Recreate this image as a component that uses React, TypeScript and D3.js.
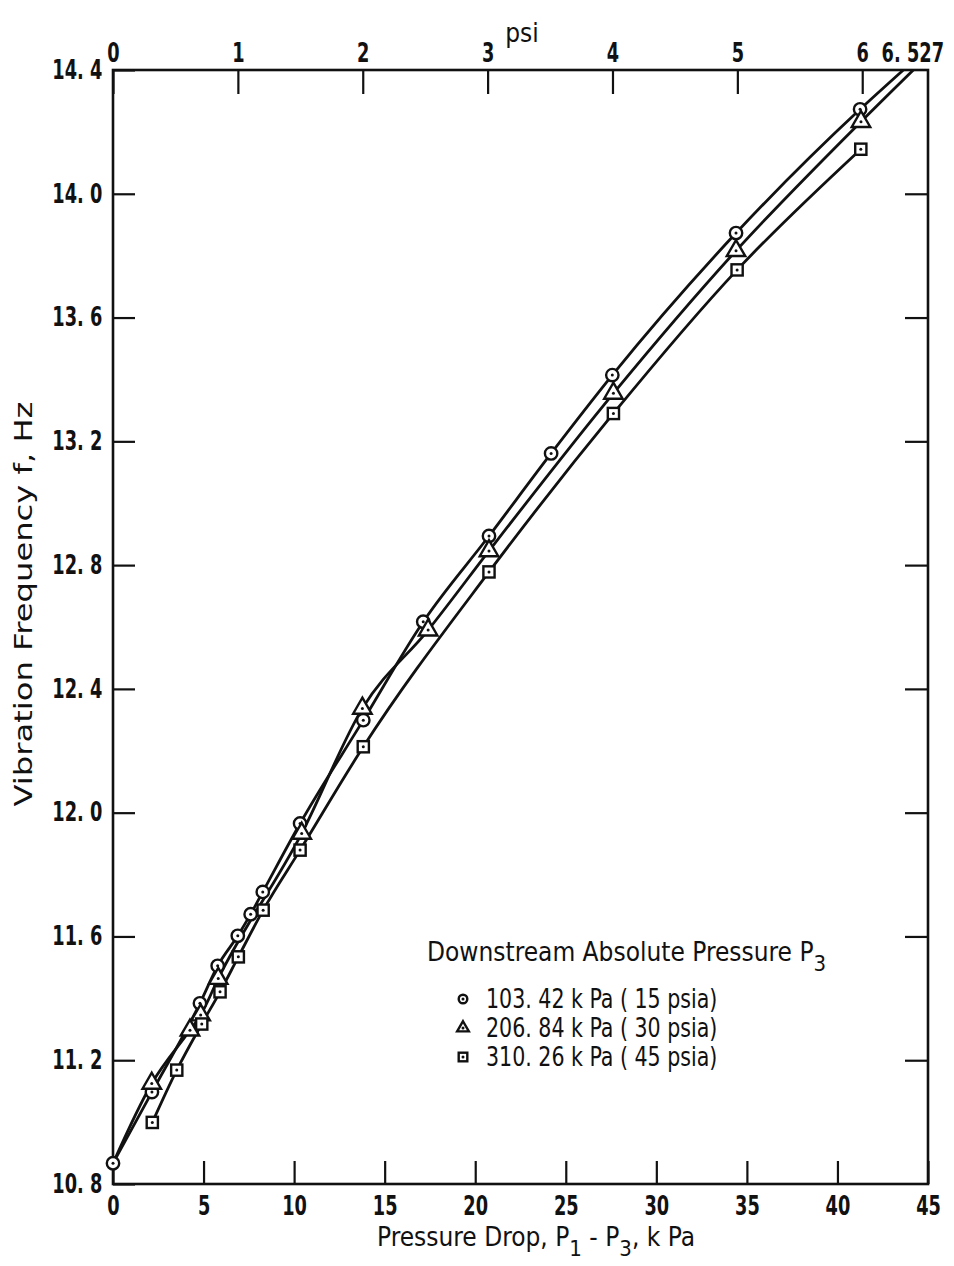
import React, { useEffect, useRef } from 'react'
import * as d3 from 'd3'

// axis values
const kpaTicks = [0, 5, 10, 15, 20, 25, 30, 35, 40, 45]
const hzTicks = [10.8, 11.2, 11.6, 12.0, 12.4, 12.8, 13.2, 13.6, 14.0, 14.4]
const hzLabels = ['10. 8', '11. 2', '11. 6', '12. 0', '12. 4', '12. 8', '13. 2', '13. 6', '14. 0', '14. 4']
const psiTicks = [0, 1, 2, 3, 4, 5, 6]
const psiEndLabel = '6. 527'
const kpaPerPsi = 6.894757

// 103.42 kPa (circles)
const lowX = [0, 2.15, 4.8, 5.78, 6.89, 7.6, 8.27, 10.33, 13.82, 17.13, 20.76, 24.19, 27.57, 34.4, 41.25]
const lowY = [10.867, 11.097, 11.384, 11.505, 11.602, 11.672, 11.744, 11.965, 12.299, 12.617, 12.894, 13.161, 13.414, 13.873, 14.273]
const lowEnd = [43.64, 14.4]

// 206.84 kPa (triangles)
const midX = [2.14, 4.25, 4.84, 5.81, 10.42, 13.77, 17.4, 20.76, 27.63, 34.4, 41.3]
const midY = [11.125, 11.297, 11.346, 11.464, 11.933, 12.337, 12.59, 12.846, 13.355, 13.816, 14.233]
const midEnd = [44.19, 14.4]

// 310.26 kPa (squares)
const highX = [2.17, 3.52, 4.9, 5.91, 6.92, 8.29, 10.33, 13.82, 20.76, 27.63, 34.46, 41.29]
const highY = [10.999, 11.168, 11.317, 11.421, 11.534, 11.685, 11.879, 12.213, 12.778, 13.29, 13.754, 14.144]

const legendTitle = 'Downstream Absolute Pressure P'
const legendLabels = ['103. 42 k Pa ( 15 psia)', '206. 84 k Pa ( 30 psia)', '310. 26 k Pa ( 45 psia)']
const legendShapes = ['circle', 'triangle', 'square']

function Chart() {
  const ref = useRef<SVGSVGElement>(null)

  useEffect(() => {
    let svg = d3.select(ref.current)
    svg.selectAll('*').remove()

    let ink = '#111'
    let font = "'Liberation Sans Narrow', 'DejaVu Sans Condensed', 'Arial Narrow', sans-serif"
    let wideFont = "'DejaVu Sans', 'Liberation Sans', sans-serif"
    let fs = 26
    let squeeze = 0.76

    let x = d3.scaleLinear().domain([0, 45]).range([113, 928])
    let y = d3.scaleLinear().domain([10.8, 14.4]).range([1184, 70])
    let xPsi = d3.scaleLinear().domain([0, 45 / kpaPerPsi]).range(x.range())

    // frame
    svg.append('rect')
      .attr('x', x(0))
      .attr('y', y(14.4))
      .attr('width', x(45) - x(0))
      .attr('height', y(10.8) - y(14.4))
      .attr('fill', 'none')
      .attr('stroke', ink)
      .attr('stroke-width', 2.6)

    // tick labels are narrow and heavy in the original, squeeze them round their anchor
    let styleAxis = (g) => {
      g.select('.domain').remove()
      g.selectAll('line').attr('stroke', ink).attr('stroke-width', 2.2)
      g.selectAll('text')
        .attr('fill', ink)
        .attr('transform', `scale(${squeeze}, 1)`)
        .style('font-family', font)
        .style('font-weight', 'bold')
        .style('font-size', fs + 'px')
    }

    svg.append('g')
      .attr('transform', `translate(0, ${y(10.8)})`)
      .call(d3.axisBottom(x).tickValues(kpaTicks).tickSize(-23).tickSizeOuter(0).tickPadding(13).tickFormat(d3.format('d')))
      .call(styleAxis)

    svg.append('g')
      .attr('transform', `translate(${x(0)}, 0)`)
      .call(d3.axisLeft(y).tickValues(hzTicks).tickSize(-22).tickSizeOuter(0).tickPadding(14).tickFormat((d, i) => hzLabels[i]))
      .call(styleAxis)

    svg.append('g')
      .attr('transform', `translate(${x(45)}, 0)`)
      .call(d3.axisRight(y).tickValues(hzTicks.slice(1, -1)).tickSize(-23).tickSizeOuter(0).tickFormat(() => ''))
      .call(styleAxis)

    svg.append('g')
      .attr('transform', `translate(0, ${y(14.4)})`)
      .call(d3.axisTop(xPsi).tickValues(psiTicks).tickSize(-24).tickSizeOuter(0).tickPadding(8).tickFormat(d3.format('d')))
      .call(styleAxis)

    svg.append('text')
      .text(psiEndLabel)
      .attr('transform', `translate(944, ${y(14.4) - 8}) scale(${squeeze}, 1)`)
      .attr('text-anchor', 'end')
      .attr('fill', ink)
      .style('font-family', font)
      .style('font-weight', 'bold')
      .style('font-size', fs + 'px')

    svg.append('text')
      .text('psi')
      .attr('x', 522)
      .attr('y', 42)
      .attr('text-anchor', 'middle')
      .attr('fill', ink)
      .style('font-family', font)
      .style('font-size', fs + 'px')

    // axis titles
    let xt = svg.append('text')
      .attr('x', 536)
      .attr('y', 1246)
      .attr('text-anchor', 'middle')
      .attr('fill', ink)
      .style('font-family', font)
      .style('font-size', fs + 'px')
    xt.append('tspan').text('Pressure Drop,  P')
    xt.append('tspan').text('1').attr('dy', 10).style('font-size', '22px')
    xt.append('tspan').text(' - P').attr('dy', -10)
    xt.append('tspan').text('3').attr('dy', 10).style('font-size', '22px')
    xt.append('tspan').text(',  k Pa').attr('dy', -10)

    svg.append('text')
      .text('Vibration Frequency f,  Hz')
      .attr('transform', `translate(32, 604) rotate(-90)`)
      .attr('text-anchor', 'middle')
      .attr('textLength', 405)
      .attr('lengthAdjust', 'spacingAndGlyphs')
      .attr('fill', ink)
      .style('font-family', wideFont)
      .style('font-size', '25px')

    // curves
    let line = d3.line().x(d => x(d[0])).y(d => y(d[1])).curve(d3.curveMonotoneX)
    let lowPts = lowX.map((v, i) => [v, lowY[i]])
    let midPts = midX.map((v, i) => [v, midY[i]])
    let highPts = highX.map((v, i) => [v, highY[i]])

    let paths = [
      lowPts.concat([lowEnd]),
      [lowPts[0]].concat(midPts, [midEnd]),
      highPts
    ]
    svg.selectAll('.curve').data(paths).join('path')
      .attr('class', 'curve')
      .attr('d', d => line(d))
      .attr('fill', 'none')
      .attr('stroke', ink)
      .attr('stroke-width', 2.8)

    // markers
    let drawMarker = (g, shape, cx, cy, s) => {
      if (shape == 'circle') {
        g.append('circle').attr('cx', cx).attr('cy', cy).attr('r', s)
          .attr('fill', 'white').attr('stroke', ink).attr('stroke-width', 2.4)
      } else if (shape == 'triangle') {
        g.append('path')
          .attr('d', d3.symbol(d3.symbolTriangle, s * s * 3.2)())
          .attr('transform', `translate(${cx}, ${cy})`)
          .attr('fill', 'white').attr('stroke', ink).attr('stroke-width', 2.4)
      } else {
        g.append('rect').attr('x', cx - s).attr('y', cy - s).attr('width', s * 2).attr('height', s * 2)
          .attr('fill', 'white').attr('stroke', ink).attr('stroke-width', 2.4)
      }
      g.append('circle').attr('cx', cx).attr('cy', cy).attr('r', 1.5).attr('fill', ink)
    }

    let mg = svg.append('g')
    lowPts.forEach(d => drawMarker(mg, 'circle', x(d[0]), y(d[1]), 6.2))
    midPts.forEach(d => drawMarker(mg, 'triangle', x(d[0]), y(d[1]), 6.8))
    highPts.forEach(d => drawMarker(mg, 'square', x(d[0]), y(d[1]), 5.6))

    // legend
    let lt = svg.append('text')
      .attr('x', 427)
      .attr('y', 961)
      .attr('fill', ink)
      .style('font-family', font)
      .style('font-size', fs + 'px')
    lt.append('tspan').text(legendTitle)
    lt.append('tspan').text('3').attr('dy', 10).style('font-size', '22px')

    let lg = svg.append('g')
    legendLabels.forEach((label, i) => {
      let ly = 999 + i * 29
      drawMarker(lg, legendShapes[i], 463, ly, 4.3)
      lg.append('text')
        .text(label)
        .attr('transform', `translate(486, ${ly + 9}) scale(0.88, 1)`)
        .attr('fill', ink)
        .style('font-family', font)
        .style('font-size', fs + 'px')
    })
  }, [])

  return (
    <svg ref={ref} width={954} height={1266} style={{ position: 'absolute', left: 0, top: 0, background: 'white' }}></svg>
  )
}

export default function App() {
  return <Chart />
}
